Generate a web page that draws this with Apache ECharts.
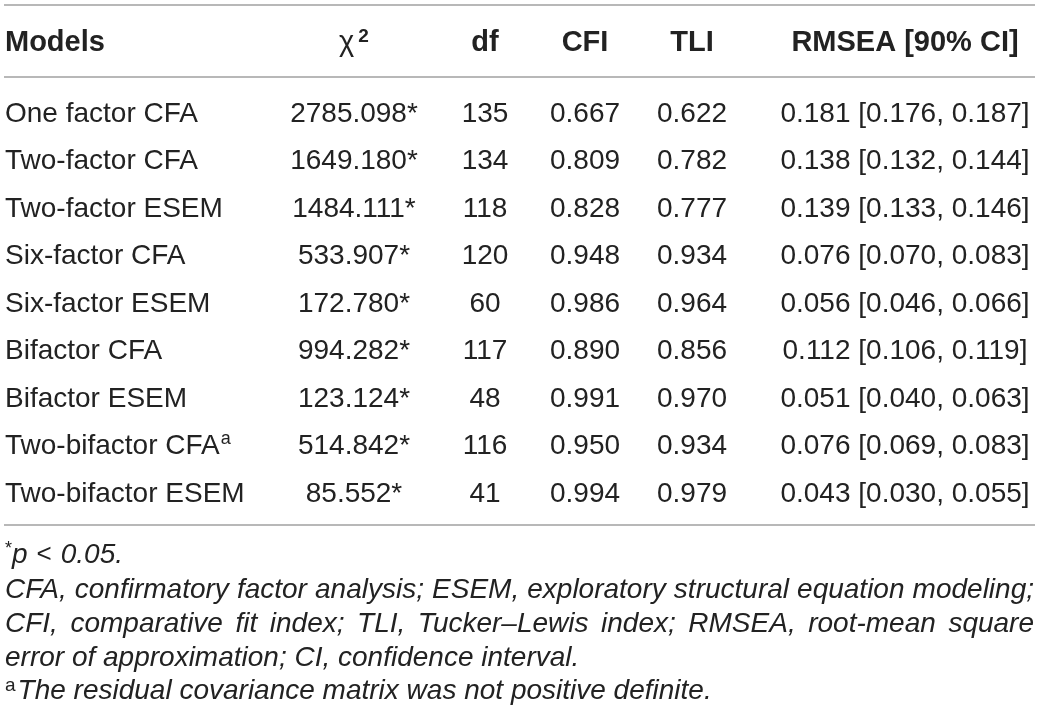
<!DOCTYPE html>
<html>
<head>
<meta charset="utf-8">
<title>Model fit table</title>
<script src="https://cdn.jsdelivr.net/npm/echarts@6/dist/echarts.min.js"></script>
<style>
  html, body { margin: 0; padding: 0; background: #fff; }
  #main { width: 1040px; height: 724px; }
</style>
</head>
<body>
<div id="main"></div>
<script>
// table values
var models = ['One factor CFA', 'Two-factor CFA', 'Two-factor ESEM', 'Six-factor CFA', 'Six-factor ESEM',
  'Bifactor CFA', 'Bifactor ESEM', 'Two-bifactor CFA', 'Two-bifactor ESEM'];
var modelNotes = ['', '', '', '', '', '', '', 'a', ''];
var chiSquare = [2785.098, 1649.180, 1484.111, 533.907, 172.780, 994.282, 123.124, 514.842, 85.552];
var chiSig = ['*', '*', '*', '*', '*', '*', '*', '*', '*'];
var df = [135, 134, 118, 120, 60, 117, 48, 116, 41];
var cfi = [0.667, 0.809, 0.828, 0.948, 0.986, 0.890, 0.991, 0.950, 0.994];
var tli = [0.622, 0.782, 0.777, 0.934, 0.964, 0.856, 0.970, 0.934, 0.979];
var rmsea = [0.181, 0.138, 0.139, 0.076, 0.056, 0.112, 0.051, 0.076, 0.043];
var ciLow = [0.176, 0.132, 0.133, 0.070, 0.046, 0.106, 0.040, 0.069, 0.030];
var ciHigh = [0.187, 0.144, 0.146, 0.083, 0.066, 0.119, 0.063, 0.083, 0.055];
var headers = ['Models', 'χ', 'df', 'CFI', 'TLI', 'RMSEA [90% CI]'];
var footSigP = 'p';
var footSigOp = '<';
var footSigVal = '0.05.';
var footAbbrev1 = 'CFA, confirmatory factor analysis; ESEM, exploratory structural equation modeling;';
var footAbbrev2 = 'CFI, comparative fit index; TLI, Tucker–Lewis index; RMSEA, root-mean square';
var footAbbrev3 = 'error of approximation; CI, confidence interval.';
var footNoteA = 'The residual covariance matrix was not positive definite.';

// layout
var FONT = '"Liberation Sans", Arial, sans-serif';
var INK = '#222';
var RULE = '#a0a0a0';
var colX = [5, 354, 485, 585, 692, 905];
var colAlign = ['left', 'center', 'center', 'center', 'center', 'center'];
var leftX = 5, rightX = 1034;

var chart = echarts.init(document.getElementById('main'), null, { renderer: 'canvas' });

function f3(v) { return v.toFixed(3); }

function cellTexts(i) {
  var name = modelNotes[i] ? '{n|' + models[i] + '}{sup|' + modelNotes[i] + '}' : '{n|' + models[i] + '}';
  return [
    name,
    '{n|' + f3(chiSquare[i]) + chiSig[i] + '}',
    '{n|' + df[i] + '}',
    '{n|' + f3(cfi[i]) + '}',
    '{n|' + f3(tli[i]) + '}',
    '{n|' + f3(rmsea[i]) + ' [' + f3(ciLow[i]) + ', ' + f3(ciHigh[i]) + ']}'
  ];
}

var bodyRich = {
  n: { fontSize: 28, fontFamily: FONT, fill: INK, color: INK, lineHeight: 32 },
  sup: { fontSize: 18, fontFamily: FONT, fill: INK, color: INK, lineHeight: 32, verticalAlign: 'top', padding: [0, 0, 0, 1] }
};

// measure words for justified footnote lines
var measureCtx = document.createElement('canvas').getContext('2d');
function justified(text, y) {
  measureCtx.font = 'italic 28px ' + FONT;
  var words = text.split(' ');
  var widths = words.map(function (w) { return measureCtx.measureText(w).width; });
  var total = widths.reduce(function (a, b) { return a + b; }, 0);
  var gap = (rightX - leftX - total) / (words.length - 1);
  var x = leftX;
  return words.map(function (w, k) {
    var el = {
      type: 'text', x: x, y: y, silent: true,
      style: { text: w, fill: INK, fontSize: 28, fontStyle: 'italic', fontFamily: FONT,
        align: 'left', verticalAlign: 'middle' }
    };
    x += widths[k] + gap;
    return el;
  });
}

var graphics = [
  { type: 'line', shape: { x1: leftX - 1, y1: 5, x2: rightX + 1, y2: 5 }, style: { stroke: RULE, lineWidth: 1.5 } },
  { type: 'line', shape: { x1: leftX - 1, y1: 77, x2: rightX + 1, y2: 77 }, style: { stroke: RULE, lineWidth: 1.5 } },
  { type: 'line', shape: { x1: leftX - 1, y1: 525, x2: rightX + 1, y2: 525 }, style: { stroke: RULE, lineWidth: 1.5 } }
];

headers.forEach(function (h, c) {
  var txt = c === 1 ? '{x|' + h + '}{sup|2}' : '{b|' + h + '}';
  graphics.push({
    type: 'text', x: colX[c], y: 43, silent: true,
    style: {
      text: txt, align: colAlign[c], verticalAlign: 'middle',
      rich: {
        b: { fontSize: 29, fontWeight: 'bold', fontFamily: FONT, fill: INK, color: INK, lineHeight: 32 },
        x: { fontSize: 29, fontFamily: FONT, fill: INK, color: INK, lineHeight: 32 },
        sup: { fontSize: 19, fontWeight: 'bold', fontFamily: FONT, fill: INK, color: INK, lineHeight: 22, verticalAlign: 'top', padding: [0, 0, 0, 4] }
      }
    }
  });
});

// footnotes
graphics.push({
  type: 'text', x: leftX, y: 555, silent: true,
  style: {
    text: '{s|*}{i|' + footSigP + '}{op|' + footSigOp + '}{i|' + footSigVal + '}', align: 'left', verticalAlign: 'middle',
    rich: {
      s: { fontSize: 18, fontFamily: FONT, fill: INK, color: INK, lineHeight: 30, verticalAlign: 'top' },
      i: { fontSize: 28, fontStyle: 'italic', fontFamily: FONT, fill: INK, color: INK, lineHeight: 30 },
      op: { fontSize: 26, fontFamily: FONT, fill: INK, color: INK, lineHeight: 30, padding: [0, 9, 0, 9] }
    }
  }
});
graphics = graphics.concat(justified(footAbbrev1, 590));
graphics = graphics.concat(justified(footAbbrev2, 624));
graphics.push({
  type: 'text', x: leftX, y: 658, silent: true,
  style: { text: footAbbrev3, fill: INK, fontSize: 28, fontStyle: 'italic', fontFamily: FONT, align: 'left', verticalAlign: 'middle' }
});
graphics.push({
  type: 'text', x: leftX, y: 691, silent: true,
  style: {
    text: '{s|a}{i|' + footNoteA + '}', align: 'left', verticalAlign: 'middle',
    rich: {
      s: { fontSize: 19, fontFamily: FONT, fill: INK, color: INK, lineHeight: 30, verticalAlign: 'top', padding: [0, 2, 0, 0] },
      i: { fontSize: 28, fontStyle: 'italic', fontFamily: FONT, fill: INK, color: INK, lineHeight: 30 }
    }
  }
});

var option = {
  animation: false,
  backgroundColor: '#fff',
  grid: { left: 0, right: 0, top: 90.25, bottom: 206.25 },
  xAxis: { type: 'value', min: 0, max: 1040, show: false },
  yAxis: { type: 'category', data: models, inverse: true, show: false },
  graphic: graphics,
  series: [{
    type: 'custom',
    data: models.map(function (m, i) { return [0, i]; }),
    encode: { x: 0, y: 1 },
    renderItem: function (params, api) {
      var i = api.value(1);
      var texts = cellTexts(i);
      return {
        type: 'group',
        children: texts.map(function (t, c) {
          var p = api.coord([colX[c], i]);
          return {
            type: 'text', x: p[0], y: p[1],
            style: { text: t, align: colAlign[c], verticalAlign: 'middle', rich: bodyRich }
          };
        })
      };
    }
  }]
};

chart.setOption(option);
</script>
</body>
</html>
